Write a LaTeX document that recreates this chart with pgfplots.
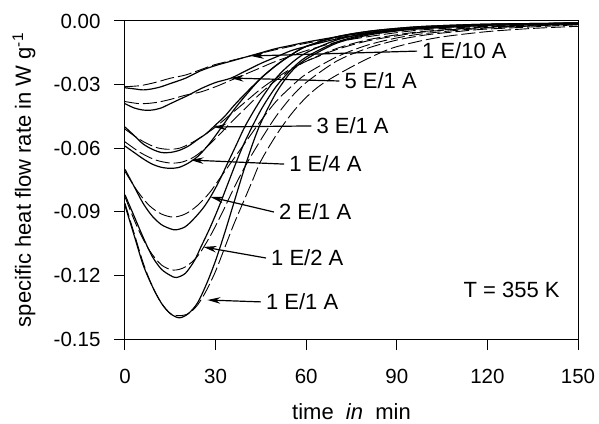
\documentclass[border=0pt]{standalone}
\usepackage{fontspec}
\setmainfont{Liberation Sans}
\usepackage{pgfplots}
\pgfplotsset{compat=1.18}
\usetikzlibrary{arrows.meta,calc}

\tikzset{
  solidc/.style={black, line width=1.2pt, smooth, tension=0.5},
  dashc/.style={black, line width=0.9pt, smooth, tension=0.5, dash pattern=on 14pt off 4pt},
  lbl/.style={anchor=west, inner sep=0pt, xshift=5pt, font=\fontsize{22}{26}\selectfont},
  arr/.style={line width=1.2pt, -{Stealth[length=13pt,width=6.5pt]}},
}

\begin{document}
\begin{tikzpicture}
\begin{axis}[
  name=ax,
  scale only axis,
  width=453pt, height=318pt,
  xmin=0, xmax=150, ymin=-0.15, ymax=0,
  xtick={0,30,...,150},
  ytick={-0.15,-0.12,-0.09,-0.06,-0.03,0},
  tick align=outside,
  xtick pos=bottom, ytick pos=left,
  major tick length=11pt,
  tick style={line width=1pt, black},
  axis line style={line width=1pt},
  scaled y ticks=false,
  yticklabel style={xshift=-10pt, /pgf/number format/.cd, fixed, fixed zerofill, precision=2},
  xticklabel style={yshift=-16pt},
  /pgf/number format/assume math mode=true,
  ticklabel style={font=\fontsize{20.5}{24}\selectfont},
  label style={font=\fontsize{22}{26}\selectfont},
  xlabel={time\ \ \textit{in}\ \ min},
  ylabel={specific heat flow rate in W g\textsuperscript{-1}},
  xlabel style={at={(axis description cs:0.5,-0.2296)}, anchor=center},
  ylabel style={at={(axis description cs:-0.2230,0.5)}, anchor=center},
]
% 1 E/1 A
\addplot[solidc] coordinates {(0,-0.087) (3,-0.101) (6,-0.115) (9,-0.125) (12,-0.133) (15,-0.138) (18,-0.140) (21,-0.138) (24,-0.133) (27,-0.124) (30,-0.113) (33,-0.100) (36,-0.086) (39,-0.072) (42,-0.059) (45,-0.048) (50,-0.034) (55,-0.024) (60,-0.018) (70,-0.0105) (80,-0.0068) (90,-0.0047) (100,-0.0034) (120,-0.002) (150,-0.001)};
\addplot[dashc] coordinates {(0,-0.086) (3,-0.100) (6,-0.114) (9,-0.125) (12,-0.133) (15,-0.138) (18,-0.139) (21,-0.138) (24,-0.134) (27,-0.127) (30,-0.118) (33,-0.107) (36,-0.096) (39,-0.086) (42,-0.076) (45,-0.066) (50,-0.054) (55,-0.044) (60,-0.036) (65,-0.030) (72,-0.024) (80,-0.018) (88,-0.013) (96,-0.010) (105,-0.0075) (120,-0.005) (135,-0.0035) (150,-0.0025)};
% 1 E/2 A
\addplot[solidc] coordinates {(0,-0.082) (3,-0.092) (6,-0.102) (9,-0.111) (12,-0.117) (15,-0.120) (17,-0.121) (20,-0.119) (23,-0.113) (25,-0.107) (28,-0.098) (31,-0.088) (34,-0.077) (37,-0.066) (40,-0.056) (45,-0.042) (50,-0.031) (55,-0.023) (60,-0.017) (70,-0.0100) (80,-0.0063) (90,-0.0044) (100,-0.0031) (120,-0.0018) (150,-0.001)};
\addplot[dashc] coordinates {(0,-0.083) (4,-0.097) (8,-0.108) (12,-0.115) (16,-0.1175) (20,-0.116) (24,-0.111) (28,-0.102) (32,-0.091) (36,-0.079) (40,-0.068) (45,-0.056) (50,-0.045) (55,-0.036) (60,-0.029) (70,-0.019) (80,-0.013) (90,-0.009) (100,-0.0065) (110,-0.005) (120,-0.0038) (150,-0.0018)};
% 2 E/1 A
\addplot[solidc] coordinates {(0,-0.070) (3,-0.078) (6,-0.086) (9,-0.092) (12,-0.096) (15,-0.098) (17,-0.0985) (20,-0.097) (23,-0.093) (26,-0.088) (28.3,-0.083) (31,-0.076) (34,-0.067) (37,-0.058) (40,-0.049) (45,-0.037) (50,-0.027) (55,-0.020) (60,-0.015) (70,-0.009) (80,-0.0058) (90,-0.004) (100,-0.003) (120,-0.0018) (150,-0.001)};
\addplot[dashc] coordinates {(0,-0.071) (4,-0.080) (8,-0.087) (12,-0.091) (16,-0.0925) (20,-0.091) (24,-0.087) (28,-0.081) (32,-0.073) (36,-0.065) (40,-0.057) (45,-0.047) (50,-0.038) (55,-0.031) (60,-0.025) (70,-0.017) (80,-0.0115) (90,-0.008) (100,-0.0058) (120,-0.0033) (150,-0.0016)};
% 1 E/4 A
\addplot[solidc] coordinates {(0,-0.059) (3,-0.062) (6,-0.065) (9,-0.0675) (12,-0.069) (15,-0.0695) (18,-0.069) (21,-0.067) (24,-0.064) (27,-0.0595) (30,-0.054) (33,-0.048) (36,-0.042) (40,-0.035) (45,-0.027) (50,-0.021) (55,-0.016) (60,-0.012) (70,-0.0075) (80,-0.005) (90,-0.0035) (100,-0.0025) (120,-0.0015) (150,-0.001)};
\addplot[dashc] coordinates {(0,-0.057) (5,-0.062) (10,-0.0655) (15,-0.067) (19,-0.0665) (23,-0.064) (27,-0.0595) (31,-0.054) (35,-0.048) (40,-0.041) (45,-0.034) (50,-0.028) (55,-0.023) (60,-0.019) (70,-0.013) (80,-0.009) (90,-0.0065) (100,-0.0048) (120,-0.0028) (150,-0.0014)};
% 3 E/1 A
\addplot[solidc] coordinates {(0,-0.050) (3,-0.054) (6,-0.058) (9,-0.0605) (12,-0.062) (15,-0.062) (18,-0.061) (21,-0.059) (24,-0.056) (27,-0.053) (30,-0.049) (33,-0.045) (36,-0.040) (40,-0.034) (45,-0.027) (50,-0.021) (55,-0.016) (60,-0.012) (70,-0.0075) (80,-0.005) (90,-0.0035) (100,-0.0025) (120,-0.0015) (150,-0.001)};
\addplot[dashc] coordinates {(0,-0.051) (5,-0.056) (10,-0.0595) (14,-0.0605) (18,-0.060) (22,-0.0575) (26,-0.054) (30,-0.050) (35,-0.044) (40,-0.038) (45,-0.032) (50,-0.027) (55,-0.0225) (60,-0.019) (70,-0.0135) (80,-0.0095) (90,-0.007) (100,-0.005) (120,-0.003) (150,-0.0015)};
% 5 E/1 A
\addplot[solidc] coordinates {(0,-0.039) (3,-0.041) (6,-0.042) (9,-0.042) (12,-0.041) (15,-0.039) (18,-0.037) (21,-0.035) (25,-0.032) (30,-0.029) (35,-0.027) (40,-0.0235) (45,-0.020) (50,-0.017) (55,-0.014) (60,-0.012) (70,-0.0085) (80,-0.006) (90,-0.0043) (100,-0.0031) (120,-0.0018) (150,-0.001)};
\addplot[dashc] coordinates {(0,-0.038) (5,-0.039) (10,-0.0385) (15,-0.037) (20,-0.035) (25,-0.0335) (30,-0.031) (35,-0.028) (40,-0.025) (45,-0.022) (50,-0.019) (60,-0.014) (70,-0.010) (80,-0.0075) (90,-0.0055) (100,-0.004) (120,-0.0025) (150,-0.0013)};
% 1 E/10 A
\addplot[solidc] coordinates {(0,-0.0315) (3,-0.032) (6,-0.0325) (9,-0.032) (12,-0.031) (15,-0.0295) (20,-0.027) (25,-0.0235) (30,-0.021) (35,-0.019) (40,-0.017) (45,-0.015) (50,-0.013) (55,-0.0115) (60,-0.010) (70,-0.0075) (80,-0.0055) (90,-0.004) (100,-0.003) (120,-0.0018) (150,-0.001)};
\addplot[dashc] coordinates {(0,-0.031) (5,-0.0305) (10,-0.029) (15,-0.027) (20,-0.0255) (25,-0.023) (30,-0.0205) (40,-0.017) (50,-0.0135) (60,-0.0105) (70,-0.008) (80,-0.006) (90,-0.0045) (100,-0.0035) (120,-0.0022) (150,-0.0012)};

% labels with arrows
\draw[arr] (axis cs:96.7,-0.0142) -- (axis cs:41.7,-0.0165);
\node[lbl] at (axis cs:96.7,-0.0142) {1 E/10 A};
\draw[arr] (axis cs:71,-0.0283) -- (axis cs:35,-0.0269);
\node[lbl] at (axis cs:71,-0.0283) {5 E/1 A};
\draw[arr] (axis cs:61.7,-0.0495) -- (axis cs:29.3,-0.0500);
\node[lbl] at (axis cs:61.7,-0.0495) {3 E/1 A};
\draw[arr] (axis cs:52.7,-0.0675) -- (axis cs:21.7,-0.0656);
\node[lbl] at (axis cs:52.7,-0.0675) {1 E/4 A};
\draw[arr] (axis cs:49.3,-0.0901) -- (axis cs:28.3,-0.0830);
\node[lbl] at (axis cs:49.3,-0.0901) {2 E/1 A};
\draw[arr] (axis cs:46.7,-0.1118) -- (axis cs:26,-0.1066);
\node[lbl] at (axis cs:46.7,-0.1118) {1 E/2 A};
\draw[arr] (axis cs:45,-0.1325) -- (axis cs:27.3,-0.1316);
\node[lbl] at (axis cs:45,-0.1325) {1 E/1 A};
\node[font=\fontsize{22}{26}\selectfont] at (axis cs:128,-0.1269) {T = 355 K};
\end{axis}
\path ($(ax.south west)+(-125pt,-84pt)$) rectangle ($(ax.north east)+(21pt,21pt)$);
\end{tikzpicture}
\end{document}
